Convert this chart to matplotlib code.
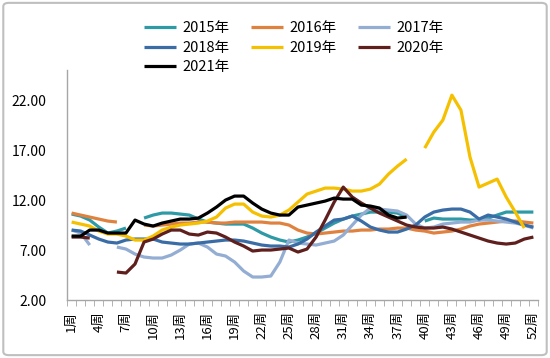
import numpy as np
import matplotlib
matplotlib.use('Agg')
import matplotlib.pyplot as plt
from matplotlib.patches import FancyBboxPatch

plt.rcParams['font.family'] = ['Noto Sans CJK SC', 'DejaVu Sans']

nan = np.nan
weeks = list(range(1, 53))
week_labels = [f'{w}周' if (w - 1) % 3 == 0 else '' for w in weeks]

y2015 = [10.6, 10.4, 10.0, 9.3, 8.7, 8.9, 9.2, nan, 10.2, 10.5,
         10.7, 10.7, 10.6, 10.5, 10.1, 9.8, 9.7, 9.6, 9.6, 9.6,
         9.2, 8.7, 8.3, 8.0, 7.8, 8.0, 8.3, 8.7, 9.2, 9.7,
         10.1, 10.4, 10.6, 10.8, 10.8, 10.8, 10.7, 10.3, nan, 9.9,
         10.2, 10.1, 10.1, 10.1, 10.0, 10.0, 10.2, 10.5, 10.8, 10.8,
         10.8, 10.8]
y2016 = [10.7, 10.5, 10.3, 10.1, 9.9, 9.8, nan, nan, 9.5, 9.4,
         9.5, 9.6, 9.7, 9.7, 9.8, 9.8, 9.7, 9.7, 9.8, 9.8,
         9.8, 9.8, 9.7, 9.7, 9.5, 9.0, 8.7, 8.6, 8.7, 8.8,
         8.9, 8.9, 9.0, 9.0, 9.1, 9.1, 9.2, 9.2, 9.0, 8.9,
         8.7, 8.8, 8.9, 9.1, 9.4, 9.6, 9.7, 9.8, 9.9, 9.9,
         9.8, 9.7]
y2017 = [9.0, 8.7, 7.5, nan, nan, 7.3, 7.1, 6.6, 6.3, 6.2,
         6.2, 6.5, 7.0, 7.6, 7.7, 7.3, 6.6, 6.4, 5.8, 4.9,
         4.3, 4.3, 4.4, 5.8, 8.0, 7.7, 7.6, 7.5, 7.7, 7.9,
         8.5, 9.5, 10.5, 11.2, 11.1, 11.0, 10.9, 10.5, 9.6, 9.2,
         9.3, 9.6, 9.7, 9.8, 9.8, 10.0, 10.0, 9.9, 9.8, 9.7,
         9.5, 9.2]
y2018 = [9.0, 8.9, 8.5, 8.1, 7.8, 7.7, 8.0, 8.1, 8.1, 8.1,
         7.8, 7.7, 7.6, 7.6, 7.7, 7.8, 7.9, 8.0, 8.0, 7.9,
         7.7, 7.5, 7.4, 7.4, 7.3, 7.6, 8.1, 8.8, 9.4, 10.0,
         10.1, 10.4, 9.9, 9.3, 9.0, 8.8, 8.8, 9.1, 9.5, 10.3,
         10.8, 11.0, 11.1, 11.1, 10.8, 10.1, 10.5, 10.3, 10.1, 9.8,
         9.5, 9.3]
y2019 = [9.8, 9.6, 9.4, 8.9, 8.6, 8.6, 8.4, 8.0, 8.0, 8.4,
         9.0, 9.3, 9.5, 9.6, 9.7, 9.9, 10.3, 11.2, 11.6, 11.6,
         10.8, 10.4, 10.3, 10.5, 11.0, 11.8, 12.6, 12.9, 13.2, 13.2,
         13.1, 12.9, 12.9, 13.1, 13.6, 14.6, 15.4, 16.1, nan, 17.2,
         18.8, 20.0, 22.5, 21.0, 16.3, 13.3, 13.7, 14.1, 12.3, 10.8,
         9.2, nan]
y2020 = [8.3, 8.3, 8.2, nan, nan, 4.8, 4.7, 5.6, 7.8, 8.1,
         8.6, 9.0, 9.0, 8.6, 8.5, 8.8, 8.7, 8.3, 7.8, 7.4,
         6.9, 7.0, 7.0, 7.1, 7.2, 6.8, 7.1, 8.3, 10.0, 11.8,
         13.3, 12.3, 11.7, 11.2, 10.7, 10.3, 9.9, 9.5, 9.3, 9.2,
         9.2, 9.3, 9.1, 8.8, 8.5, 8.2, 7.9, 7.7, 7.6, 7.7,
         8.1, 8.3]
y2021 = [8.4, 8.4, 9.0, 9.0, 8.7, 8.7, 8.7, 10.0, 9.6, 9.4,
         9.7, 9.9, 10.1, 10.1, 10.2, 10.7, 11.3, 12.0, 12.4, 12.4,
         11.7, 11.1, 10.7, 10.5, 10.5, 11.3, 11.5, 11.7, 11.9, 12.2,
         12.1, 12.1, 11.5, 11.4, 11.2, 10.5, 10.2, 10.3]

series = [
    ('2015年', y2015, '#2E9AA6'),
    ('2016年', y2016, '#E0823F'),
    ('2017年', y2017, '#93ADD3'),
    ('2018年', y2018, '#3A6CA6'),
    ('2019年', y2019, '#F5C000'),
    ('2020年', y2020, '#5E1F1D'),
    ('2021年', y2021, '#000000'),
]

fig = plt.figure(figsize=(5.5, 3.58), dpi=100)
fig.patches.append(FancyBboxPatch((0.006, 0.008), 0.988, 0.984, boxstyle='round,pad=0,rounding_size=0.01',
                                  transform=fig.transFigure, fill=False, edgecolor='#BFBFBF', linewidth=1.5))
ax = fig.add_axes([0.122, 0.162, 0.856, 0.642])

lines = {}
for name, vals, color in series:
    ln, = ax.plot(weeks[:len(vals)], vals, color=color, linewidth=2.3, label=name, solid_capstyle='butt')
    lines[name] = ln

ax.set_xlim(0.5, 52.5)
ax.set_ylim(2, 25)
ax.set_yticks([2, 7, 12, 17, 22])
ax.set_yticklabels([f'{v:.2f}' for v in [2, 7, 12, 17, 22]], fontsize=10)
ax.set_xticks(weeks)
ax.set_xticklabels(week_labels, rotation=90, fontsize=9.5)
ax.set_xticks(np.arange(0.5, 53, 1), minor=True)
ax.tick_params(axis='x', which='major', length=0, pad=8)
ax.tick_params(axis='x', which='minor', length=4, color='#A6A6A6', direction='out')
ax.tick_params(axis='y', length=0, pad=15)

for side in ['top', 'right']:
    ax.spines[side].set_visible(False)
for side in ['left', 'bottom']:
    ax.spines[side].set_color('#A6A6A6')
    ax.spines[side].set_linewidth(1)

# matplotlib fills legend columns first, so reorder to read row by row
order = ['2015年', '2018年', '2021年', '2016年', '2019年', '2017年', '2020年']
fig.legend([lines[k] for k in order], order, loc='upper center', bbox_to_anchor=(0.535, 0.977), ncol=3,
           frameon=False, fontsize=10.5, handlelength=2.2, handletextpad=0.45, columnspacing=1.45,
           labelspacing=0.38)

fig.savefig('out.png', dpi=100)
